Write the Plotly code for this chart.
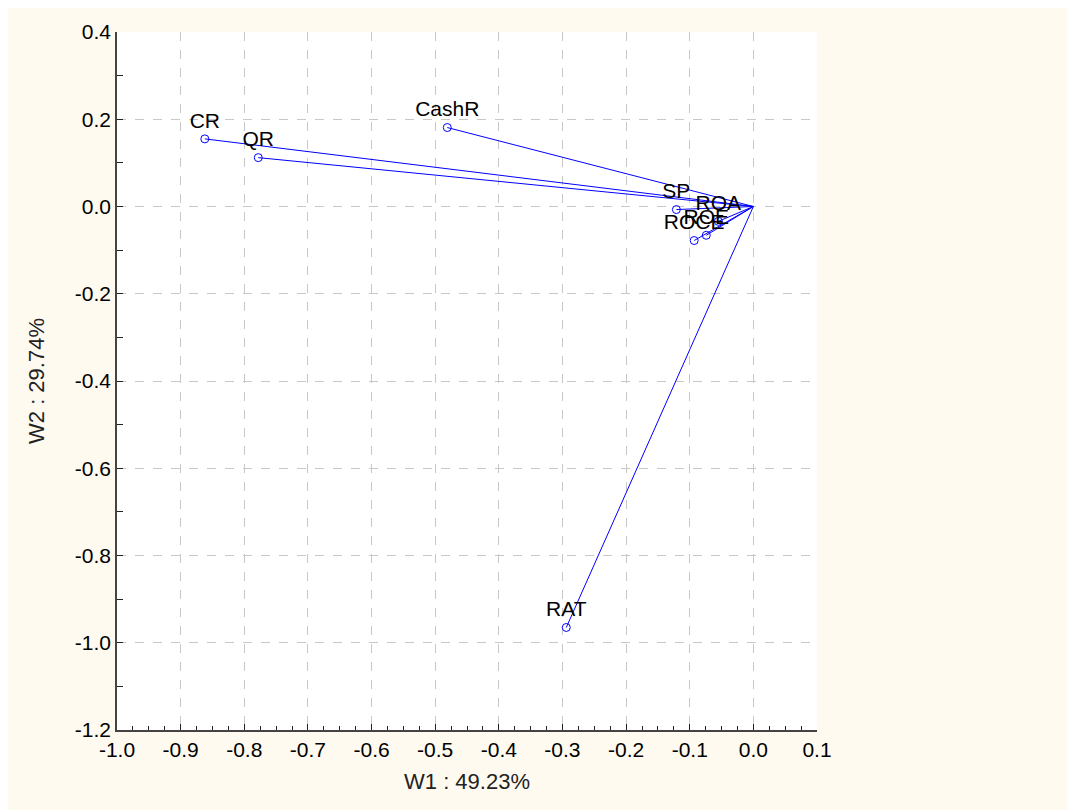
import plotly.graph_objects as go

# Loadings (W1, W2)
variables = ["CR", "QR", "CashR", "SP", "ROA", "ROE", "ROCE", "RAT"]
w1 = [-0.862, -0.778, -0.481, -0.121, -0.055, -0.074, -0.093, -0.294]
w2 = [0.155, 0.112, 0.181, -0.007, -0.034, -0.066, -0.078, -0.965]

x_tick_vals = [-1.0, -0.9, -0.8, -0.7, -0.6, -0.5, -0.4, -0.3, -0.2, -0.1, 0.0, 0.1]
x_tick_text = ["-1.0", "-0.9", "-0.8", "-0.7", "-0.6", "-0.5", "-0.4", "-0.3", "-0.2", "-0.1", "0.0", "0.1"]
y_tick_vals = [-1.2, -1.0, -0.8, -0.6, -0.4, -0.2, 0.0, 0.2, 0.4]
y_tick_text = ["-1.2", "-1.0", "-0.8", "-0.6", "-0.4", "-0.2", "0.0", "0.2", "0.4"]

x_title = "W1 : 49.23%"
y_title = "W2 : 29.74%"

FONT = "Liberation Sans, Arial"

# vectors from the origin
lx, ly = [], []
for a, b in zip(w1, w2):
    lx += [0, a, None]
    ly += [0, b, None]

fig = go.Figure()
fig.add_trace(go.Scatter(x=lx, y=ly, mode="lines",
                         line=dict(color="#0000FF", width=1),
                         hoverinfo="skip", showlegend=False))
fig.add_trace(go.Scatter(x=w1, y=w2, mode="markers+text", text=variables,
                         textposition="top center",
                         textfont=dict(family=FONT, size=21, color="black"),
                         marker=dict(symbol="circle-open", size=8,
                                     color="#0000FF", line=dict(width=1, color="#0000FF")),
                         showlegend=False))

tick_common = dict(ticks="inside", ticklen=6, tickcolor="#222222",
                   showline=True, linecolor="#444444", linewidth=1.5, zeroline=False)

fig.update_layout(
    width=1075, height=810,
    margin=dict(l=109, r=266, t=22, b=88),
    paper_bgcolor="#FEFAEF", plot_bgcolor="white",
    font=dict(family=FONT, color="black"),
    xaxis=dict(range=[-1.0, 0.1], tickvals=x_tick_vals, ticktext=x_tick_text,
               showgrid=True, gridcolor="#C8C8C8", griddash="dash", gridwidth=1,
               minor=dict(dtick=0.025, tick0=0, ticks="inside", ticklen=4,
                          tickcolor="#222222", showgrid=False),
               tickfont=dict(family=FONT, size=21, color="black"),
               title=dict(text=x_title, standoff=14,
                          font=dict(family=FONT, size=22, color="#222222")),
               **tick_common),
    yaxis=dict(range=[-1.2, 0.4], tickvals=y_tick_vals, ticktext=y_tick_text,
               showgrid=True, gridcolor="#C8C8C8", griddash="dash", gridwidth=1,
               minor=dict(dtick=0.1, tick0=0, ticks="inside", ticklen=6,
                          tickcolor="#222222", showgrid=False),
               tickfont=dict(family=FONT, size=21, color="black"),
               title=dict(text=y_title, standoff=24,
                          font=dict(family=FONT, size=22, color="#222222")),
               **tick_common),
    xaxis2=dict(overlaying="x", side="top", matches="x", range=[-1.0, 0.1],
                tickvals=x_tick_vals, showticklabels=False, showgrid=False,
                minor=dict(dtick=0.025, tick0=0, ticks="inside", ticklen=4,
                           tickcolor="#222222", showgrid=False),
                anchor="y", **tick_common),
    yaxis2=dict(overlaying="y", side="right", matches="y", range=[-1.2, 0.4],
                tickvals=y_tick_vals, showticklabels=False, showgrid=False,
                minor=dict(dtick=0.1, tick0=0, ticks="inside", ticklen=6,
                           tickcolor="#222222", showgrid=False),
                anchor="x", **tick_common),
)

fig.write_html("out.html")
